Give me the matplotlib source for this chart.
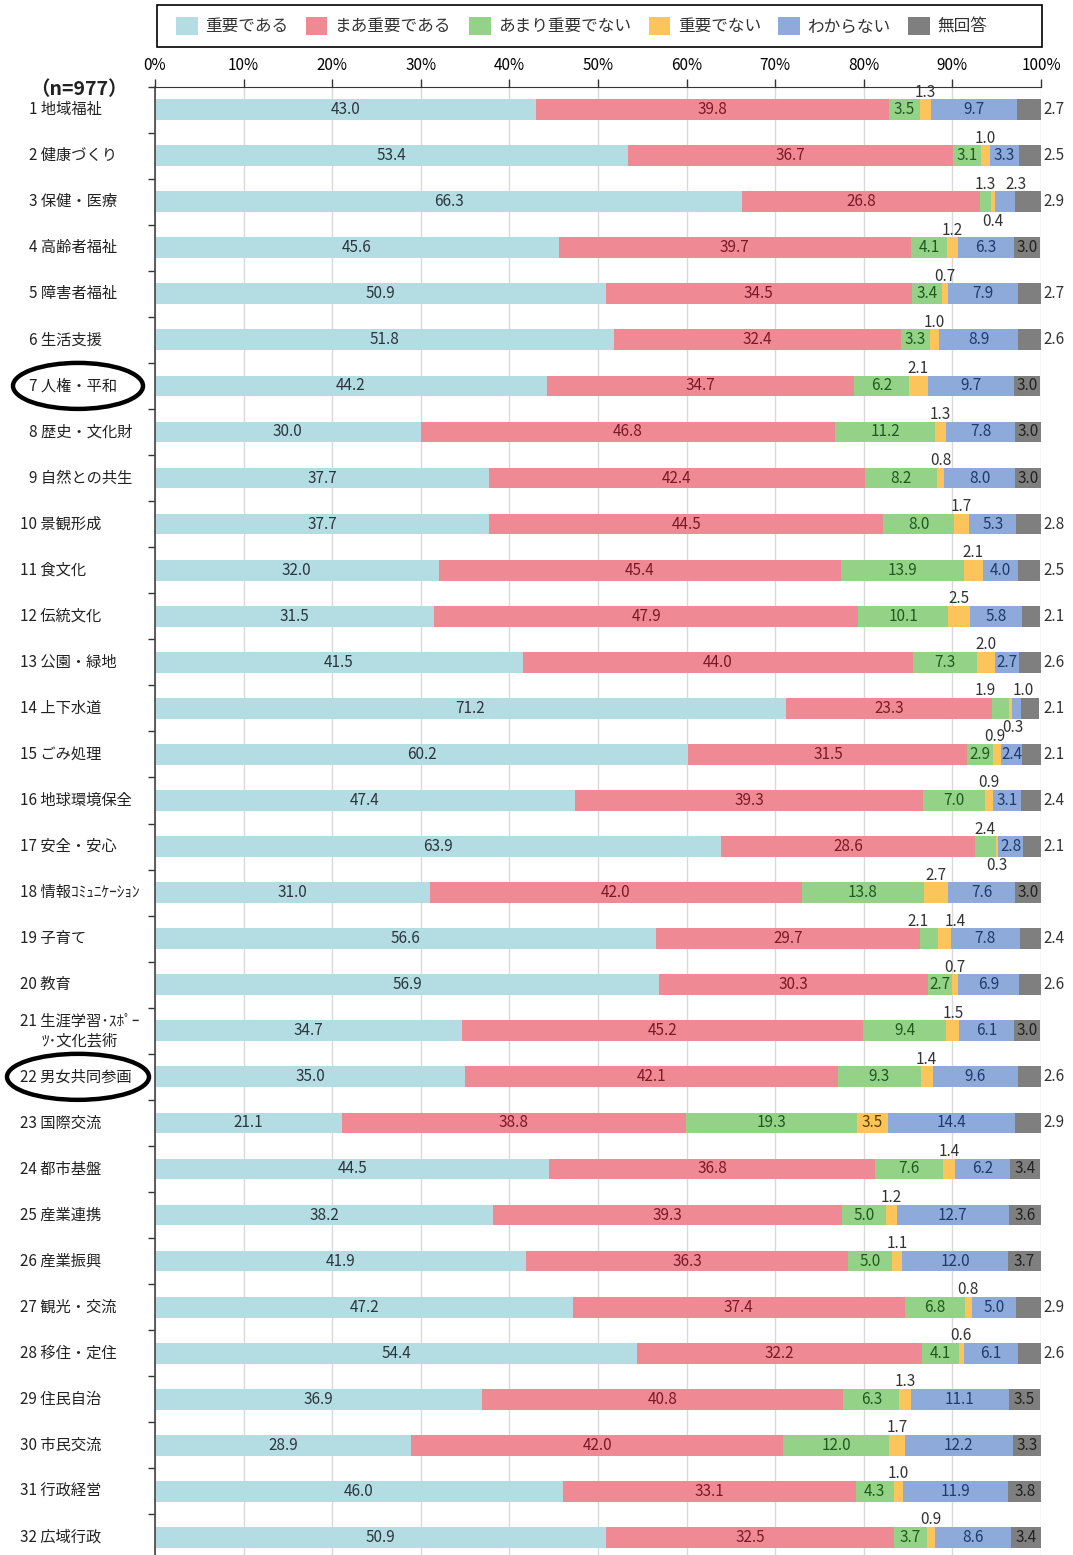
import numpy as np
import matplotlib.pyplot as plt
from matplotlib.patches import Patch, Ellipse, Rectangle

plt.rcParams['font.family'] = ['Noto Sans CJK JP', 'DejaVu Sans']

items = ['1 地域福祉', '2 健康づくり', '3 保健・医療', '4 高齢者福祉', '5 障害者福祉',
         '6 生活支援', '7 人権・平和', '8 歴史・文化財', '9 自然との共生', '10 景観形成',
         '11 食文化', '12 伝統文化', '13 公園・緑地', '14 上下水道', '15 ごみ処理',
         '16 地球環境保全', '17 安全・安心', '18 情報ｺﾐｭﾆｹｰｼｮﾝ', '19 子育て', '20 教育',
         '21 生涯学習･ｽﾎﾟｰ\nﾂ･文化芸術', '22 男女共同参画', '23 国際交流', '24 都市基盤',
         '25 産業連携', '26 産業振興', '27 観光・交流', '28 移住・定住', '29 住民自治',
         '30 市民交流', '31 行政経営', '32 広域行政']

important = [43.0, 53.4, 66.3, 45.6, 50.9, 51.8, 44.2, 30.0, 37.7, 37.7, 32.0, 31.5,
             41.5, 71.2, 60.2, 47.4, 63.9, 31.0, 56.6, 56.9, 34.7, 35.0, 21.1, 44.5,
             38.2, 41.9, 47.2, 54.4, 36.9, 28.9, 46.0, 50.9]
fairly = [39.8, 36.7, 26.8, 39.7, 34.5, 32.4, 34.7, 46.8, 42.4, 44.5, 45.4, 47.9,
          44.0, 23.3, 31.5, 39.3, 28.6, 42.0, 29.7, 30.3, 45.2, 42.1, 38.8, 36.8,
          39.3, 36.3, 37.4, 32.2, 40.8, 42.0, 33.1, 32.5]
not_very = [3.5, 3.1, 1.3, 4.1, 3.4, 3.3, 6.2, 11.2, 8.2, 8.0, 13.9, 10.1,
            7.3, 1.9, 2.9, 7.0, 2.4, 13.8, 2.1, 2.7, 9.4, 9.3, 19.3, 7.6,
            5.0, 5.0, 6.8, 4.1, 6.3, 12.0, 4.3, 3.7]
not_important = [1.3, 1.0, 0.4, 1.2, 0.7, 1.0, 2.1, 1.3, 0.8, 1.7, 2.1, 2.5,
                 2.0, 0.3, 0.9, 0.9, 0.3, 2.7, 1.4, 0.7, 1.5, 1.4, 3.5, 1.4,
                 1.2, 1.1, 0.8, 0.6, 1.3, 1.7, 1.0, 0.9]
unknown = [9.7, 3.3, 2.3, 6.3, 7.9, 8.9, 9.7, 7.8, 8.0, 5.3, 4.0, 5.8,
           2.7, 1.0, 2.4, 3.1, 2.8, 7.6, 7.8, 6.9, 6.1, 9.6, 14.4, 6.2,
           12.7, 12.0, 5.0, 6.1, 11.1, 12.2, 11.9, 8.6]
no_answer = [2.7, 2.5, 2.9, 3.0, 2.7, 2.6, 3.0, 3.0, 3.0, 2.8, 2.5, 2.1,
             2.6, 2.1, 2.1, 2.4, 2.1, 3.0, 2.4, 2.6, 3.0, 2.6, 2.9, 3.4,
             3.6, 3.7, 2.9, 2.6, 3.5, 3.3, 3.8, 3.4]

series_names = ['重要である', 'まあ重要である', 'あまり重要でない', '重要でない', 'わからない', '無回答']
series = [important, fairly, not_very, not_important, unknown, no_answer]
colors = ['#b4dde3', '#ef8a94', '#94d387', '#fcc55c', '#8eaadb', '#7f7f7f']
text_colors = ['#2b3640', '#7a1a26', '#1e5a1e', '#5a3d00', '#1f3a6e', '#222222']

# segments narrower than this get their label outside the bar
min_inside = [0, 0, 2.5, 3.0, 2.4, 3.0]
below = {(2, 3), (13, 3), (16, 3)}
nudge = {(2, 4): 1.2, (13, 2): -1.7, (13, 3): 0.3, (13, 4): 0.8,
         (14, 3): -0.3, (18, 2): -1.2, (18, 3): 1.2}
highlight = [7, 22]

W, H = 1073, 1555
fig = plt.figure(figsize=(W / 100, H / 100), dpi=100)
ax = fig.add_axes([155 / W, -5.5 / H, 886 / W, 1474 / H])

y = np.arange(len(items))
left = np.zeros(len(items))
for k, (vals, col) in enumerate(zip(series, colors)):
    vals = np.array(vals)
    ax.barh(y, vals, left=left, height=0.45, color=col, zorder=2)
    for i, v in enumerate(vals):
        cx = left[i] + v / 2
        if v >= min_inside[k]:
            ax.text(cx, i, f'{v:.1f}', ha='center', va='center', fontsize=11,
                    color=text_colors[k], zorder=3)
        elif k == 5:
            ax.text(100.3, i, f'{v:.1f}', ha='left', va='center', fontsize=11,
                    color='#333333', clip_on=False)
        elif (i, k) in below:
            ax.text(cx + nudge.get((i, k), 0), i + 0.42, f'{v:.1f}', ha='center',
                    va='center', fontsize=11, color='#333333', zorder=3)
        else:
            ax.text(cx + nudge.get((i, k), 0), i - 0.38, f'{v:.1f}', ha='center',
                    va='center', fontsize=11, color='#333333', zorder=3)
    left += vals

ax.set_xlim(0, 100)
ax.set_ylim(len(items) - 0.5, -0.5)
ax.xaxis.tick_top()
ax.set_xticks(np.arange(0, 101, 10))
ax.set_xticklabels([f'{t}%' for t in range(0, 101, 10)], fontsize=11)
ax.tick_params(axis='x', length=6, width=1, color='#333333', pad=3)
ax.set_yticks(np.arange(-0.5, len(items), 1))
ax.set_yticklabels([])
ax.tick_params(axis='y', length=5, width=1, color='#333333')
ax.grid(axis='x', color='#d9d9d9', lw=1, zorder=0)
ax.spines['right'].set_visible(False)
ax.spines['bottom'].set_visible(False)
ax.spines['top'].set_color('#333333')
ax.spines['left'].set_color('#444444')
ax.spines['left'].set_linewidth(1.2)

# row labels on the left, placed in figure pixels
fig.canvas.draw()
for i, name in enumerate(items):
    yd = ax.transData.transform((0, i))[1]
    x0 = 20 if name[1].isdigit() else 29
    fig.text(x0 / W, yd / H, name, ha='left', va='center', fontsize=11,
             multialignment='center', color='#222222')

fig.text(30 / W, 1 - 90 / H, '（n=977）', ha='left', va='center', fontsize=14,
         fontweight='bold', color='#222222')

# circle the highlighted items
for r in highlight:
    yd = ax.transData.transform((0, r - 1))[1]
    w = 1.30 if r < 10 else 1.42
    e = Ellipse((0.78, yd / 100), w, 0.46, transform=fig.dpi_scale_trans,
                fill=False, lw=3.2, edgecolor='black')
    fig.add_artist(e)

# legend in a framed box above the axis labels
fig.add_artist(Rectangle((157 / W, 1 - 47 / H), 885 / W, 42 / H, transform=fig.transFigure,
                         fill=False, edgecolor='black', lw=1.2))
handles = [Patch(facecolor=c, edgecolor='none') for c in colors]
fig.legend(handles, series_names, loc='center left', ncol=6,
           bbox_to_anchor=(161 / W, 1 - 26 / H), frameon=False, fontsize=12,
           handlelength=1.3, handleheight=1.3, handletextpad=0.45, columnspacing=1.05,
           labelcolor='#333333')

fig.savefig('out.png', dpi=100)
